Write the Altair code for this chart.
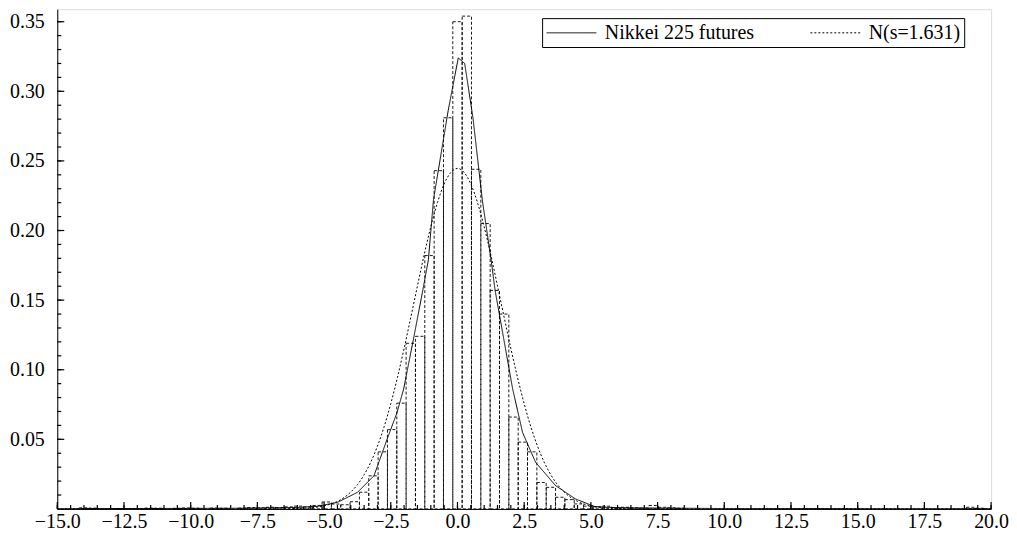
import altair as alt
import pandas as pd

# ---------------- data ----------------
BIN_WIDTH = 0.35
bin_index = [-40, -39, -36, -33, -32, -30, -29, -28, -26, -25,
             -23, -22, -21, -20, -19, -18, -17, -16, -15, -14,
             -13, -12, -11, -10, -9, -8, -7, -6, -5, -4,
             -3, -2, -1, 0, 1, 2, 3, 4, 5, 6,
             7, 8, 9, 10, 11, 12, 13, 14, 15, 16,
             17, 18, 19, 20, 21, 22, 23, 24, 55, 56]
bin_height = [0.0008, 0.0006, 0.0003, 0.0006, 0.0005, 0.0004, 0.0007, 0.0005, 0.0006, 0.0005,
              0.0006, 0.0010, 0.0008, 0.0012, 0.0010, 0.0015, 0.0020, 0.0015, 0.0025, 0.0050,
              0.0035, 0.0030, 0.0052, 0.0120, 0.0238, 0.0410, 0.0570, 0.0760, 0.1190, 0.1240,
              0.1820, 0.2430, 0.2810, 0.3500, 0.3540, 0.2440, 0.2050, 0.1570, 0.1400, 0.0660,
              0.0480, 0.0410, 0.0190, 0.0155, 0.0084, 0.0067, 0.0036, 0.0020, 0.0015, 0.0020,
              0.0010, 0.0012, 0.0008, 0.0006, 0.0025, 0.0012, 0.0008, 0.0005, 0.0012, 0.0005]

emp_x = [-15.0, -12.0, -10.0, -8.0, -7.0, -5.98, -5.24, -4.49, -3.75, -3.13,
         -2.64, -2.27, -2.02, -1.63, -1.30, -1.09, -0.90, -0.47, -0.35, 0.03,
         0.27, 0.58, 0.93, 1.26, 1.41, 2.07, 2.44, 2.93, 3.68, 4.42,
         5.16, 6.0, 7.5, 10.0, 15.0, 20.0]
emp_y = [0.0002, 0.0003, 0.0004, 0.0005, 0.0008, 0.0011, 0.0019, 0.0048, 0.0119, 0.0238,
         0.0500, 0.0690, 0.0860, 0.1240, 0.1570, 0.1790, 0.2220, 0.2720, 0.2860, 0.3240,
         0.3200, 0.2810, 0.2220, 0.1790, 0.1570, 0.0860, 0.0549, 0.0334, 0.0167, 0.0072,
         0.0016, 0.0009, 0.0006, 0.0003, 0.0002, 0.0002]

norm_x = [-15.0, -7.0, -6.0, -5.5, -5.0, -4.5, -4.0, -3.75, -3.5, -3.25,
          -3.0, -2.75, -2.5, -2.25, -2.0, -1.75, -1.5, -1.25, -1.0, -0.75,
          -0.5, -0.25, 0.0, 0.25, 0.5, 0.75, 1.0, 1.25, 1.5, 1.75,
          2.0, 2.25, 2.5, 2.75, 3.0, 3.25, 3.5, 3.75, 4.0, 4.5,
          5.0, 5.5, 6.0, 7.0, 20.0]
norm_y = [0.0, 0.0, 0.0003, 0.0008, 0.0022, 0.0054, 0.0121, 0.0174, 0.0245, 0.0336,
          0.0451, 0.0590, 0.0756, 0.0945, 0.1153, 0.1376, 0.1602, 0.1824, 0.2027, 0.2201,
          0.2334, 0.2417, 0.2446, 0.2417, 0.2334, 0.2201, 0.2027, 0.1824, 0.1602, 0.1376,
          0.1153, 0.0945, 0.0756, 0.0590, 0.0451, 0.0336, 0.0245, 0.0174, 0.0121, 0.0054,
          0.0022, 0.0008, 0.0003, 0.0, 0.0]

series_names = ["Nikkei 225 futures", "N(s=1.631)"]

x_major = [-15.0, -12.5, -10.0, -7.5, -5.0, -2.5, 0.0, 2.5, 5.0, 7.5, 10.0, 12.5, 15.0, 17.5, 20.0]
x_minor = [v / 2 for v in range(-30, 41)]
y_major = [0.05, 0.10, 0.15, 0.20, 0.25, 0.30, 0.35]
y_minor = [v / 100 for v in range(1, 36)]

# ---------------- tables ----------------
hist = pd.DataFrame({"k": bin_index, "h": bin_height})
hist["x0"] = hist["k"] * BIN_WIDTH - BIN_WIDTH / 2
hist["x1"] = hist["k"] * BIN_WIDTH + BIN_WIDTH / 2
hist["base"] = 0.0

emp = pd.DataFrame({"x": emp_x, "y": emp_y, "series": series_names[0]})
norm = pd.DataFrame({"x": norm_x, "y": norm_y, "series": series_names[1]})

W, H = 938, 502
FONT = "Liberation Serif"
X_DOM = [-15.0, 20.0]
Y_DOM = [0.0, 0.359]
xscale = alt.Scale(domain=X_DOM, nice=False, zero=False)
yscale = alt.Scale(domain=Y_DOM, nice=False, zero=True)

x_axis = alt.Axis(orient="bottom", values=x_major, format=".1f", ticks=False,
                  tickSize=0, labelPadding=3, labelFlush=False, labelOverlap=False,
                  grid=False, domainColor="black", labelFont=FONT,
                  labelFontSize=20, labelColor="black")
y_axis = alt.Axis(orient="left", values=y_major, format=".2f", ticks=False,
                  tickSize=0, labelPadding=13, grid=False, domainColor="black",
                  labelFont=FONT, labelFontSize=20, labelColor="black",
                  labelOverlap=False)

dash_scale = alt.Scale(domain=series_names, range=[[1, 0], [2, 2]])
legend = alt.Legend(
    orient="none", legendX=487, legendY=9, direction="horizontal", columns=2,
    title=None, symbolType="M-1,0H4", symbolSize=400, symbolStrokeWidth=1,
    symbolStrokeColor="black", symbolFillColor="transparent",
    labelFont=FONT, labelFontSize=20, labelColor="black",
    labelOffset=38, columnPadding=54, strokeColor="black", fillColor="white",
    padding=4, labelLimit=400,
)

# inward-pointing ticks, drawn first through the shared scales
def x_ticks(vals, length):
    return alt.Chart(pd.DataFrame({"v": vals})).mark_rule(color="black", strokeWidth=1.2).encode(
        x=alt.X("v:Q", scale=xscale, title=None),
        y=alt.value(H), y2=alt.value(H - length),
    )

def y_ticks(vals, length):
    return alt.Chart(pd.DataFrame({"v": vals})).mark_rule(color="black", strokeWidth=1.2).encode(
        y=alt.Y("v:Q", scale=yscale, title=None),
        x=alt.value(0), x2=alt.value(length),
    )

# histogram
bars = alt.Chart(hist).mark_rect(
    fillOpacity=0, stroke="black", strokeWidth=0.9, strokeDash=[3, 2]
).encode(
    x=alt.X("x0:Q", scale=xscale, title=None, axis=x_axis),
    x2="x1:Q",
    y=alt.Y("h:Q", scale=yscale, title=None, axis=y_axis),
    y2="base:Q",
)

# empirical density line
emp_line = alt.Chart(emp).mark_line(color="black", strokeWidth=1).encode(
    x=alt.X("x:Q", scale=xscale, title=None, axis=x_axis),
    y=alt.Y("y:Q", scale=yscale, title=None, axis=y_axis),
    strokeDash=alt.StrokeDash("series:N", scale=dash_scale, legend=legend),
)

# normal curve
norm_line = alt.Chart(norm).mark_line(color="black", strokeWidth=1, interpolate="monotone").encode(
    x=alt.X("x:Q", scale=xscale, title=None, axis=x_axis),
    y=alt.Y("y:Q", scale=yscale, title=None, axis=y_axis),
    strokeDash=alt.StrokeDash("series:N", scale=dash_scale, legend=legend),
)

chart = alt.layer(
    bars, emp_line, norm_line,
    x_ticks(x_minor, 4), x_ticks(x_major, 7),
    y_ticks(y_minor, 4), y_ticks(y_major, 7),
).properties(
    width=W, height=H,
    autosize=alt.AutoSizeParams(type="none"),
    padding={"left": 49.5, "top": 0, "right": 18, "bottom": 25},
).configure_view(stroke=None).configure(background="white", font=FONT)

chart.save("out.html", embed_options={"renderer": "svg", "actions": False})
